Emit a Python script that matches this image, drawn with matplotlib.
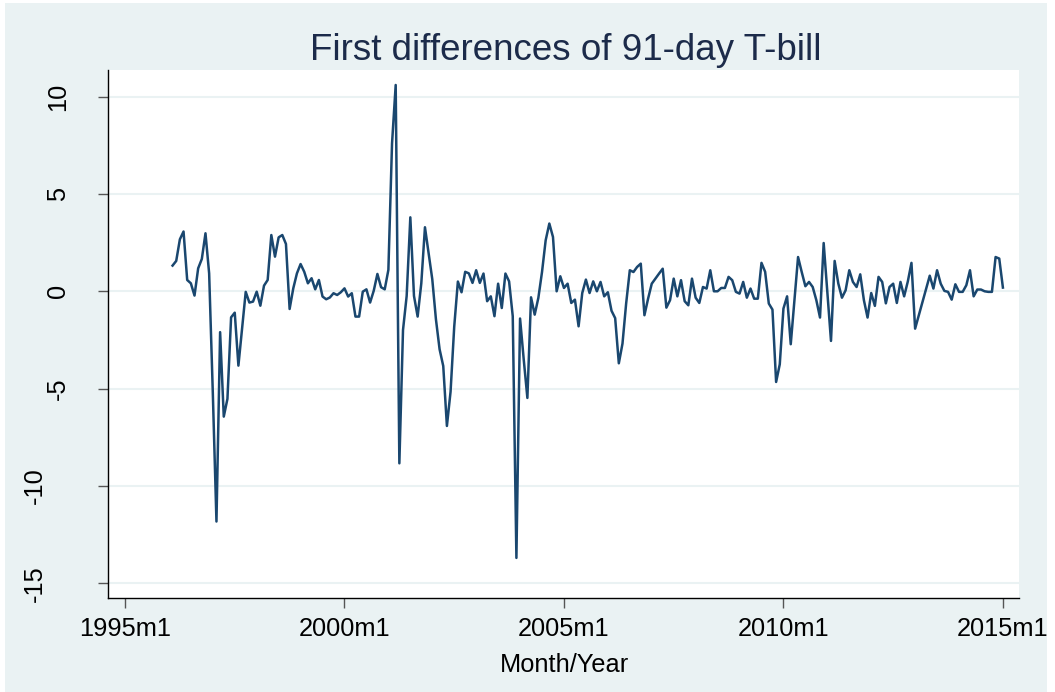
import matplotlib
matplotlib.use("Agg")
import matplotlib.pyplot as plt
from matplotlib import transforms
from matplotlib.patches import Rectangle

plt.rcParams['font.family'] = ['Liberation Sans', 'DejaVu Sans']

# ---- data ----
start_year, start_month = 1996, 2
dbill = [
    1.32, 1.56, 2.67, 3.07, 0.58, 0.41, -0.22, 1.18, 1.66, 2.98, 0.92, -5.2,
    -11.83, -2.1, -6.44, -5.53, -1.34, -1.1, -3.82, -1.95, -0.03, -0.58, -0.53, -0.02,
    -0.74, 0.29, 0.58, 2.89, 1.78, 2.77, 2.89, 2.43, -0.91, 0.15, 0.92, 1.4,
    1.0, 0.41, 0.67, 0.1, 0.58, -0.27, -0.41, -0.32, -0.10, -0.19, -0.05, 0.15,
    -0.27, -0.10, -1.30, -1.30, -0.02, 0.10, -0.58, 0.03, 0.89, 0.21, 0.10, 1.1,
    7.6, 10.6, -8.84, -1.99, -0.24, 3.8, -0.24, -1.3, 0.41, 3.29, 1.95, 0.62,
    -1.44, -2.98, -3.84, -6.92, -5.16, -1.82, 0.5, -0.05, 1.0, 0.92, 0.43, 1.08,
    0.43, 0.91, -0.51, -0.26, -1.28, 0.39, -0.86, 0.91, 0.51, -1.28, -13.7, -1.40,
    -3.5, -5.48, -0.31, -1.2, -0.34, 0.99, 2.62, 3.48, 2.79, 0.0, 0.77, 0.17,
    0.39, -0.6, -0.43, -1.8, -0.09, 0.6, -0.09, 0.51, 0.0, 0.48, -0.26, -0.05,
    -1.0, -1.38, -3.7, -2.69, -0.63, 1.08, 0.99, 1.25, 1.42, -1.23, -0.38, 0.39,
    0.65, 0.91, 1.16, -0.84, -0.46, 0.65, -0.26, 0.57, -0.51, -0.72, 0.65, -0.33,
    -0.6, 0.22, 0.14, 1.08, 0.0, 0.0, 0.17, 0.17, 0.74, 0.57, -0.03, -0.12,
    0.48, -0.33, 0.14, -0.38, -0.38, 1.46, 1.0, -0.63, -0.94, -4.66, -3.75, -0.89,
    -0.26, -2.72, -0.46, 1.76, 0.99, 0.26, 0.48, 0.22, -0.46, -1.35, 2.48, 0.0,
    -2.55, 1.56, 0.4, -0.33, 0.05, 1.08, 0.48, 0.22, 0.87, -0.46, -1.35, -0.09,
    -0.75, 0.74, 0.48, -0.62, 0.22, 0.39, -0.6, 0.48, -0.26, 0.5, 1.46, -1.92,
    -1.24, -0.56, 0.12, 0.8, 0.14, 1.08, 0.39, 0.02, -0.03, -0.43, 0.36, -0.03,
    -0.03, 0.31, 1.08, -0.26, 0.09, 0.09, 0.0, -0.03, -0.03, 1.76, 1.68, 0.19,
]
xtick_years = [1995, 2000, 2005, 2010, 2015]
xtick_labels = ["1995m1", "2000m1", "2005m1", "2010m1", "2015m1"]
yticks = [10, 5, 0, -5, -10, -15]
ytick_labels = ["10", "5", "0", "-5", "-10", "-15"]
title = "First differences of 91-day T-bill"
xlabel = "Month/Year"

# months since 1995m1
base_year = 1995
first = (start_year - base_year) * 12 + (start_month - 1)
months = list(range(first, first + len(dbill)))
xticks = [(y - base_year) * 12 for y in xtick_years]

W, H = 1055, 692
fig = plt.figure(figsize=(W / 100, H / 100), dpi=100, facecolor='white')
fig.patches.append(Rectangle((5 / W, 0), (1047 - 5) / W, (H - 3) / H,
                             transform=fig.transFigure, facecolor='#EAF2F3',
                             edgecolor='none', zorder=-10))

L, R, T, B = 108, 1019, 70, 598
ax = fig.add_axes([L / W, 1 - B / H, (R - L) / W, (B - T) / H])
ax.set_facecolor('white')

ax.plot(months, dbill, color='#1A476F', linewidth=1.8, solid_joinstyle='round', zorder=3)

ax.set_xlim(-4.65, 244.4)
ax.set_ylim(-15.76, 11.37)

ax.set_yticks(yticks)
ax.set_yticklabels([])
ax.yaxis.grid(True, color='#EAF2F3', linewidth=1.5)
ax.xaxis.grid(False)
ax.set_axisbelow(True)

ax.set_xticks(xticks)
ax.set_xticklabels(xtick_labels, fontsize=18.3, color='black')

ax.tick_params(axis='both', direction='out', length=7.5, width=1.0, color='#555555')
ax.tick_params(axis='x', pad=6.0)

for s in ['top', 'right']:
    ax.spines[s].set_visible(False)
for s in ['left', 'bottom']:
    ax.spines[s].set_color('black')
    ax.spines[s].set_linewidth(1.0)

# rotated y tick labels
trans = transforms.blended_transform_factory(fig.transFigure, ax.transData)
for v, lab in zip(yticks, ytick_labels):
    xc = 58.0 if len(lab) <= 2 else 35.0
    ax.text(xc / W, v, lab, transform=trans, rotation=90, ha='center', va='center',
            fontsize=18.3, color='black', clip_on=False)

fig.text(566 / W, 1 - 60 / H, title, ha='center', va='baseline',
         fontsize=26.5, color='#1C2B4A')
fig.text(564 / W, 1 - 672 / H, xlabel, ha='center', va='baseline',
         fontsize=18.3, color='black')

fig.savefig('out.png', dpi=100, facecolor=fig.get_facecolor())
